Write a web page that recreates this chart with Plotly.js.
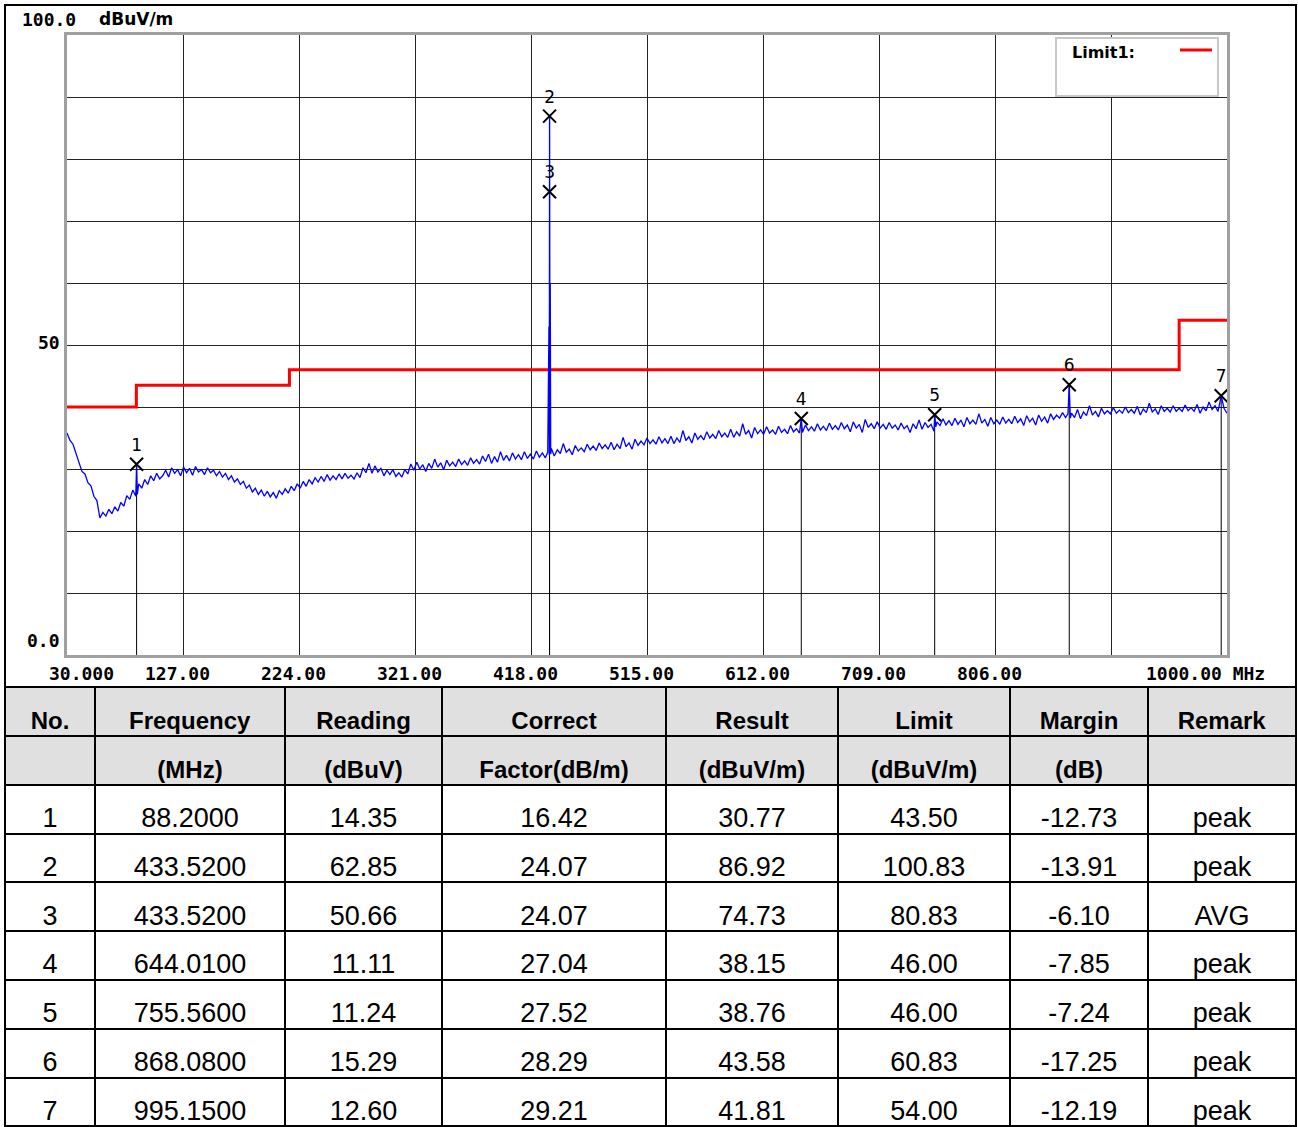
<!DOCTYPE html>
<html><head><meta charset="utf-8">
<script src="https://cdn.plot.ly/plotly-3.0.1.min.js"></script>
<style>html,body{margin:0;padding:0;background:#fff;overflow:hidden;}#chart{width:1298px;height:1127px;}</style>
</head><body><div id="chart"></div>
<script>
// ---- spectrum trace (MHz, dBuV/m) ----
const freqMHz = [
30,32.5,35,37.5,40,42.5,45,47.5,50,52.5,
55,57.5,60,62.5,65,67.5,70,72.5,75,77.5,
80,82.5,85,87.5,88.2,88.8,90,92.5,95,97.5,
100,102.5,105,107.5,110,112.5,115,117.5,120,122.5,
125,127.5,130,132.5,135,137.5,140,142.5,145,147.5,
150,152.5,155,157.5,160,162.5,165,167.5,170,172.5,
175,177.5,180,182.5,185,187.5,190,192.5,195,197.5,
200,202.5,205,207.5,210,212.5,215,217.5,220,222.5,
225,227.5,230,232.5,235,237.5,240,242.5,245,247.5,
250,252.5,255,257.5,260,262.5,265,267.5,270,272.5,
275,277.5,280,282.5,285,287.5,290,292.5,295,297.5,
300,302.5,305,307.5,310,312.5,315,317.5,320,322.5,
325,327.5,330,332.5,335,337.5,340,342.5,345,347.5,
350,352.5,355,357.5,360,362.5,365,367.5,370,372.5,
375,377.5,380,382.5,385,387.5,390,392.5,395,397.5,
400,402.5,405,407.5,410,412.5,415,417.5,420,422.5,
425,427.5,430,432,433,433.3,433.52,433.8,434.1,434.5,
435,437.5,440,442.5,445,447.5,450,452.5,455,457.5,
460,462.5,465,467.5,470,472.5,475,477.5,480,482.5,
485,487.5,490,492.5,495,497.5,500,502.5,505,507.5,
510,512.5,515,517.5,520,522.5,525,527.5,530,532.5,
535,537.5,540,542.5,545,547.5,550,552.5,555,557.5,
560,562.5,565,567.5,570,572.5,575,577.5,580,582.5,
585,587.5,590,592.5,595,597.5,600,602.5,605,607.5,
610,612.5,615,617.5,620,622.5,625,627.5,630,632.5,
635,637.5,640,642.5,644.01,645,647.5,650,652.5,655,
657.5,660,662.5,665,667.5,670,672.5,675,677.5,680,
682.5,685,687.5,690,692.5,695,697.5,700,702.5,705,
707.5,710,712.5,715,717.5,720,722.5,725,727.5,730,
732.5,735,737.5,740,742.5,745,747.5,750,752.5,755,
755.56,756.5,757.5,760,762.5,765,767.5,770,772.5,775,
777.5,780,782.5,785,787.5,790,792.5,795,797.5,800,
802.5,805,807.5,810,812.5,815,817.5,820,822.5,825,
827.5,830,832.5,835,837.5,840,842.5,845,847.5,850,
852.5,855,857.5,860,862.5,865,867,868.08,869,870,
872.5,875,877.5,880,882.5,885,887.5,890,892.5,895,
897.5,900,902.5,905,907.5,910,912.5,915,917.5,920,
922.5,925,927.5,930,932.5,935,937.5,940,942.5,945,
947.5,950,952.5,955,957.5,960,962.5,965,967.5,970,
972.5,975,977.5,980,982.5,985,987.5,990,992.5,995.15,
997.5,1000
];
const levelDbuvM = [
35.8,34.6,34.0,32.4,31.0,29.6,29.2,27.8,27.3,25.6,
24.9,22.1,23.0,22.4,23.5,22.8,23.9,23.2,24.6,24.0,
25.7,25.1,26.6,25.6,30.77,25.9,27.6,26.9,28.3,27.5,
28.9,28.1,29.3,28.4,28.9,29.8,28.7,30.2,29.3,29.9,
28.9,30.3,29.4,30.1,29.0,30.4,29.5,29.9,29.1,30.2,
29.4,29.8,28.9,29.6,28.7,29.3,28.3,28.9,27.9,28.4,
27.5,28.0,26.9,27.4,26.3,26.9,25.9,26.6,25.6,26.4,
25.5,26.2,25.3,26.5,25.9,26.8,26.1,27.2,26.5,27.6,
26.9,28.0,27.2,28.3,27.6,28.6,27.9,28.8,28.0,29.1,
28.2,28.9,28.3,29.2,28.4,29.3,28.5,29.0,28.4,29.4,
28.6,30.2,29.4,30.9,29.3,30.5,29.5,30.1,28.9,29.8,
29.1,29.9,28.8,29.4,28.7,29.9,29.2,30.8,29.8,31.1,
30.0,30.7,29.6,30.9,30.1,31.6,30.3,31.0,29.9,31.4,
30.5,31.1,30.4,31.6,30.7,31.3,30.6,31.8,30.9,31.5,
30.8,32.1,31.2,32.4,30.9,32.0,31.1,32.8,31.4,32.2,
31.3,32.6,31.6,32.3,31.5,32.8,31.7,32.4,31.6,32.9,
31.9,32.6,31.8,32.7,53.0,32.2,86.92,32.6,60.0,32.4,
33.3,32.1,33.1,32.5,34.1,32.7,33.2,32.3,33.8,32.9,
33.4,32.8,34.0,33.1,33.7,33.0,34.2,33.3,33.9,33.2,
34.3,33.1,34.0,33.3,35.1,33.6,34.2,33.2,34.8,33.8,
34.5,33.9,35.0,34.1,34.7,34.0,35.2,34.2,34.9,34.1,
35.3,34.1,35.0,34.3,36.2,34.6,35.2,34.2,35.8,34.8,
35.4,34.7,36.0,35.0,35.6,34.9,36.2,35.2,35.8,35.1,
36.4,35.1,36.0,35.3,37.3,35.6,36.2,35.0,36.7,35.7,
36.3,35.6,36.8,35.8,36.3,35.6,36.9,35.9,36.4,35.7,
37.0,36.0,36.5,35.8,38.15,35.9,37.1,36.2,36.8,36.1,
37.3,36.3,36.9,36.2,37.4,36.4,37.0,36.3,37.5,36.5,
37.1,36.0,37.6,36.6,37.2,35.9,38.0,36.7,37.3,36.5,
37.6,36.6,37.2,36.4,37.5,36.6,37.1,36.3,37.4,36.5,
37.0,35.9,37.3,36.5,37.9,36.4,37.5,36.7,37.2,36.1,
38.76,36.8,37.6,37.0,38.1,37.1,37.8,37.0,38.2,37.2,
37.9,36.8,38.3,37.3,37.9,37.2,38.9,37.4,38.0,36.9,
38.3,37.3,37.9,37.2,38.4,37.4,38.0,37.3,38.5,37.5,
38.1,37.0,38.6,37.6,38.2,37.1,38.7,37.7,38.4,37.4,
38.9,38.0,38.7,38.2,39.1,38.3,38.9,43.58,38.2,39.0,
38.3,39.6,38.1,39.2,38.6,40.2,38.7,39.3,38.4,39.8,
38.9,39.4,38.9,39.9,39.0,39.5,39.0,40.0,39.1,39.6,
39.0,40.1,38.7,39.7,39.1,40.6,39.2,39.7,38.8,40.2,
39.3,39.8,39.2,40.2,39.3,39.8,39.3,40.3,39.4,39.9,
39.3,40.4,39.0,40.0,39.4,40.8,39.6,40.2,39.3,41.81,
39.8,39.0
];

// ---- limit line ----
const limitFreq = [30, 88, 216, 960, 1000];
const limitLevel = [40, 43.5, 46, 54, 54];

// ---- markers ----
const markerNo = ['1','2','3','4','5','6','7'];
const markerFreq = [88.2, 433.52, 433.52, 644.01, 755.56, 868.08, 995.15];
const markerLevel = [30.77, 86.92, 74.73, 38.15, 38.76, 43.58, 41.81];

// ---- axis labels ----
const xTickVals = [30, 127, 224, 321, 418, 515, 612, 709, 806, 1000];
const xTickText = ['30.000','127.00','224.00','321.00','418.00','515.00','612.00','709.00','806.00','1000.00 MHz'];
const yLabelVals = [0, 50];
const yLabelText = ['0.0', '50'];
const yTopLabel = '100.0';
const yUnit = 'dBuV/m';
const legendName = 'Limit1:';

// ---- table ----
const headRow1 = ['No.','Frequency','Reading','Correct','Result','Limit','Margin','Remark'];
const headRow2 = ['','(MHz)','(dBuV)','Factor(dB/m)','(dBuV/m)','(dBuV/m)','(dB)',''];
const tblNo = ['1','2','3','4','5','6','7'];
const tblFreq = ['88.2000','433.5200','433.5200','644.0100','755.5600','868.0800','995.1500'];
const tblReading = ['14.35','62.85','50.66','11.11','11.24','15.29','12.60'];
const tblCorrect = ['16.42','24.07','24.07','27.04','27.52','28.29','29.21'];
const tblResult = ['30.77','86.92','74.73','38.15','38.76','43.58','41.81'];
const tblLimit = ['43.50','100.83','80.83','46.00','46.00','60.83','54.00'];
const tblMargin = ['-12.73','-13.91','-6.10','-7.85','-7.24','-17.25','-12.19'];
const tblRemark = ['peak','peak','AVG','peak','peak','peak','peak'];

// ================= build =================
const W = 1298, H = 1127;
const px = x => x / W;
const py = y => 1 - y / H;

const mlx = [], mly = [];
markerFreq.forEach((f, i) => { mlx.push(f, f, null); mly.push(0, markerLevel[i], null); });

const traces = [
  {type:'scatter', mode:'lines', x: mlx, y: mly, line:{color:'#000', width:1}, hoverinfo:'skip', showlegend:false},
  {type:'scatter', mode:'lines', x: limitFreq, y: limitLevel, line:{color:'#ff0000', width:3, shape:'hv'}, name: legendName, showlegend:false},
  {type:'scatter', mode:'lines', x: freqMHz, y: levelDbuvM, line:{color:'#0000ff', width:1.3}, showlegend:false},
  {type:'scatter', mode:'markers+text', x: markerFreq, y: markerLevel, text: markerNo, textposition:'top center',
   textfont:{family:'DejaVu Sans', size:17, color:'#000'},
   marker:{symbol:'x-thin-open', size:13, color:'#000', line:{width:2, color:'#000'}}, showlegend:false}
];

const columns = [tblNo, tblFreq, tblReading, tblCorrect, tblResult, tblLimit, tblMargin, tblRemark];
const cellValues = columns.map((col, i) => [headRow2[i] ? '<b>' + headRow2[i] + '</b>' : ''].concat(col));
const cellFill = columns.map(col => ['#e0e0e0'].concat(col.map(() => '#ffffff')));
const cellSize = columns.map(col => [24].concat(col.map(() => 27)));

traces.push({
  type:'table',
  domain:{x:[px(5), px(1296)], y:[0, 440/H]},
  columnwidth:[90,190,157,224,172,172,138,148],
  header:{
    values: headRow1.map(h => '<b>' + h + '</b>'),
    height: 49, align:'center',
    fill:{color:'#e0e0e0'}, line:{color:'#000', width:2},
    font:{family:'Liberation Sans, Arial', size:24, color:'#000'}
  },
  cells:{
    values: cellValues,
    height: 48.8, align:'center',
    fill:{color: cellFill}, line:{color:'#000', width:2},
    font:{family:'Liberation Sans, Arial', size: cellSize, color:'#000'}
  }
});

const annotations = [];
const tickFont = {family:'DejaVu Sans Mono', size:18, color:'#000', weight:'bold'};
xTickVals.forEach((v, i) => {
  let shift = -6;
  if (i === 0) shift = 14;
  if (i === xTickVals.length - 1) shift = -22;
  annotations.push({x: v, y: 0, xref:'x', yref:'y', text: xTickText[i], showarrow:false,
    xanchor:'center', yanchor:'top', yshift:-6, xshift: shift, font: tickFont});
});
yLabelVals.forEach((v, i) => {
  annotations.push({x: px(62), y: v, xref:'paper', yref:'y', text: yLabelText[i], showarrow:false,
    xanchor:'right', yanchor:'middle', yshift: v === 0 ? 15 : 2, font: tickFont});
});
annotations.push({x: px(20), y: py(19), xref:'paper', yref:'paper', text: yTopLabel, showarrow:false,
  xanchor:'left', yanchor:'middle', font: tickFont});
annotations.push({x: px(97), y: py(19), xref:'paper', yref:'paper', text: yUnit, showarrow:false,
  xanchor:'left', yanchor:'middle', font:{family:'DejaVu Sans', size:17, color:'#000', weight:'bold'}});
annotations.push({x: px(1070), y: py(52), xref:'paper', yref:'paper', text: legendName, showarrow:false,
  xanchor:'left', yanchor:'middle', font:{family:'DejaVu Sans', size:16, color:'#000', weight:'bold'}});

const shapes = [
  {type:'rect', xref:'paper', yref:'paper', x0: px(1056), x1: px(1218), y0: py(38), y1: py(96),
   line:{color:'#c8c8c8', width:2}, fillcolor:'#ffffff', layer:'above'},
  {type:'line', xref:'paper', yref:'paper', x0: px(1180), x1: px(1212), y0: py(50), y1: py(50),
   line:{color:'#ff0000', width:3}, layer:'above'},
  {type:'rect', xref:'paper', yref:'paper', x0: px(5), x1: px(1296), y0: py(5), y1: py(687),
   line:{color:'#000', width:2}, fillcolor:'rgba(0,0,0,0)', layer:'above'}
];

const layout = {
  width: W, height: H,
  margin:{l:0, r:0, t:0, b:0},
  paper_bgcolor:'#ffffff', plot_bgcolor:'#ffffff',
  showlegend:false,
  xaxis:{domain:[px(67), px(1227)], range:[30, 1000], tick0:30, dtick:97, showticklabels:false,
    showgrid:true, gridcolor:'#222', gridwidth:1, zeroline:false, ticks:'',
    showline:true, mirror:true, linecolor:'#a0a0a0', linewidth:3},
  yaxis:{domain:[1 - 655/H, 1 - 35/H], range:[0, 100], dtick:10, showticklabels:false,
    showgrid:true, gridcolor:'#222', gridwidth:1, zeroline:false, ticks:'',
    showline:true, mirror:true, linecolor:'#a0a0a0', linewidth:3},
  annotations, shapes
};

// the report sets cell text lower inside each row than Plotly's top padding does
Plotly.newPlot('chart', traces, layout, {displayModeBar:false, staticPlot:true}).then(gd => {
  const svg = gd.querySelector('svg.main-svg');
  gd.querySelectorAll('.cell-text').forEach(t => {
    const size = parseFloat(t.style.fontSize) || 24;
    const tr = svg.createSVGTransform();
    tr.setTranslate(0, size > 25 ? 14 : 12);
    t.transform.baseVal.appendItem(tr);
  });
});
</script>
</body></html>
